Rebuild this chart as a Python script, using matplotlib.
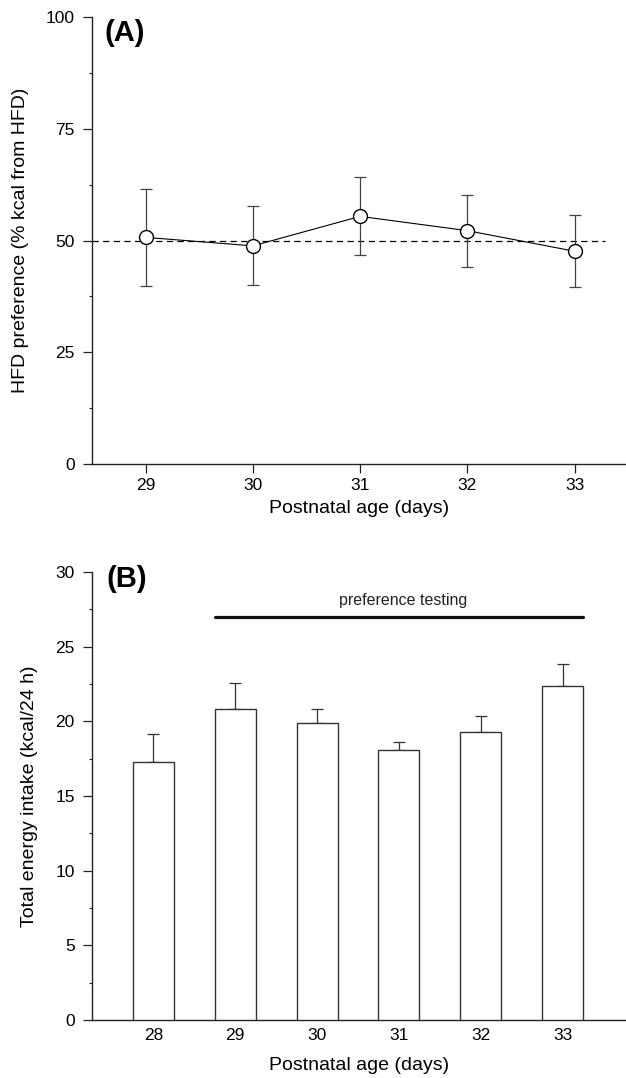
import matplotlib
matplotlib.use('Agg')
import matplotlib.pyplot as plt
from matplotlib.ticker import MultipleLocator

plt.rcParams['font.family'] = ['Liberation Sans', 'DejaVu Sans']

# Panel A: HFD preference (% kcal from HFD), mean +/- error
days_a = [29, 30, 31, 32, 33]
pref = [50.7, 48.8, 55.4, 52.2, 47.6]
pref_err = [10.8, 8.85, 8.7, 8.05, 8.0]
chance_level = 50

# Panel B: total energy intake (kcal/24 h), mean + error
days_b = [28, 29, 30, 31, 32, 33]
intake = [17.3, 20.8, 19.9, 18.05, 19.27, 22.35]
intake_err = [1.88, 1.78, 0.94, 0.57, 1.09, 1.51]
testing_days = (28.75, 33.25)
testing_level = 27.0

spine_col = '#222222'

fig = plt.figure(figsize=(6.26, 10.78), dpi=100)
ax1 = fig.add_axes([0.147, 0.5696, 0.853, 0.4146])
ax2 = fig.add_axes([0.147, 0.0538, 0.853, 0.4156])

for ax in (ax1, ax2):
    ax.spines['top'].set_visible(False)
    ax.spines['right'].set_visible(False)
    for s in ('left', 'bottom'):
        ax.spines[s].set_color(spine_col)
        ax.spines[s].set_linewidth(1.0)
    ax.tick_params(axis='both', which='major', labelsize=12.5, length=6.5,
                   width=0.9, color=spine_col, direction='out')
    ax.tick_params(axis='y', which='major', pad=6)
    ax.tick_params(axis='y', which='minor', length=2.5, width=0.8, color=spine_col)
    ax.tick_params(axis='x', which='minor', length=0)

# ---- (A) ----
ax1.plot([28.5, 33.28], [chance_level, chance_level], color='black', lw=0.9,
         linestyle=(0, (5, 3.5)), zorder=1)
ax1.errorbar(days_a, pref, yerr=pref_err, fmt='none', ecolor='#444444',
             elinewidth=0.9, capsize=4, capthick=0.9, zorder=2)
ax1.plot(days_a, pref, color='black', lw=0.8, marker='o', markersize=10,
         markerfacecolor='white', markeredgecolor='black', markeredgewidth=1.0,
         zorder=3)
ax1.set_xlim(28.5, 33.479)
ax1.set_ylim(0, 100)
ax1.set_xticks(days_a)
ax1.set_yticks([0, 25, 50, 75, 100])
ax1.yaxis.set_minor_locator(MultipleLocator(12.5))
ax1.set_xlabel('Postnatal age (days)', fontsize=14, labelpad=5)
ax1.set_ylabel('HFD preference (% kcal from HFD)', fontsize=14, labelpad=12)
ax1.text(0.024, 0.995, '(A)', transform=ax1.transAxes, fontsize=21,
         fontweight='bold', ha='left', va='top')

# ---- (B) ----
ax2.bar(days_b, intake, width=0.5, color='white', edgecolor='#333333',
        linewidth=1.0, zorder=3)
ax2.errorbar(days_b, intake, yerr=[[0] * len(intake_err), intake_err], fmt='none',
             ecolor='#333333', elinewidth=0.9, capsize=4, capthick=0.9, zorder=2)
ax2.plot(testing_days, [testing_level, testing_level], color='#111111', lw=2.3,
         solid_capstyle='round')
ax2.text(sum(testing_days) / 2 + 0.05, 27.8, 'preference testing', fontsize=11.5,
         ha='center', va='baseline', color='#222222')
ax2.set_xlim(27.25, 33.774)
ax2.set_ylim(0, 30)
ax2.set_xticks(days_b)
ax2.tick_params(axis='x', which='major', length=0, pad=6)
ax2.set_yticks([0, 5, 10, 15, 20, 25, 30])
ax2.yaxis.set_minor_locator(MultipleLocator(2.5))
ax2.set_xlabel('Postnatal age (days)', fontsize=14, labelpad=10)
ax2.set_ylabel('Total energy intake (kcal/24 h)', fontsize=14, labelpad=12)
ax2.text(0.028, 1.015, '(B)', transform=ax2.transAxes, fontsize=21,
         fontweight='bold', ha='left', va='top')

fig.savefig('out.png', dpi=100)
